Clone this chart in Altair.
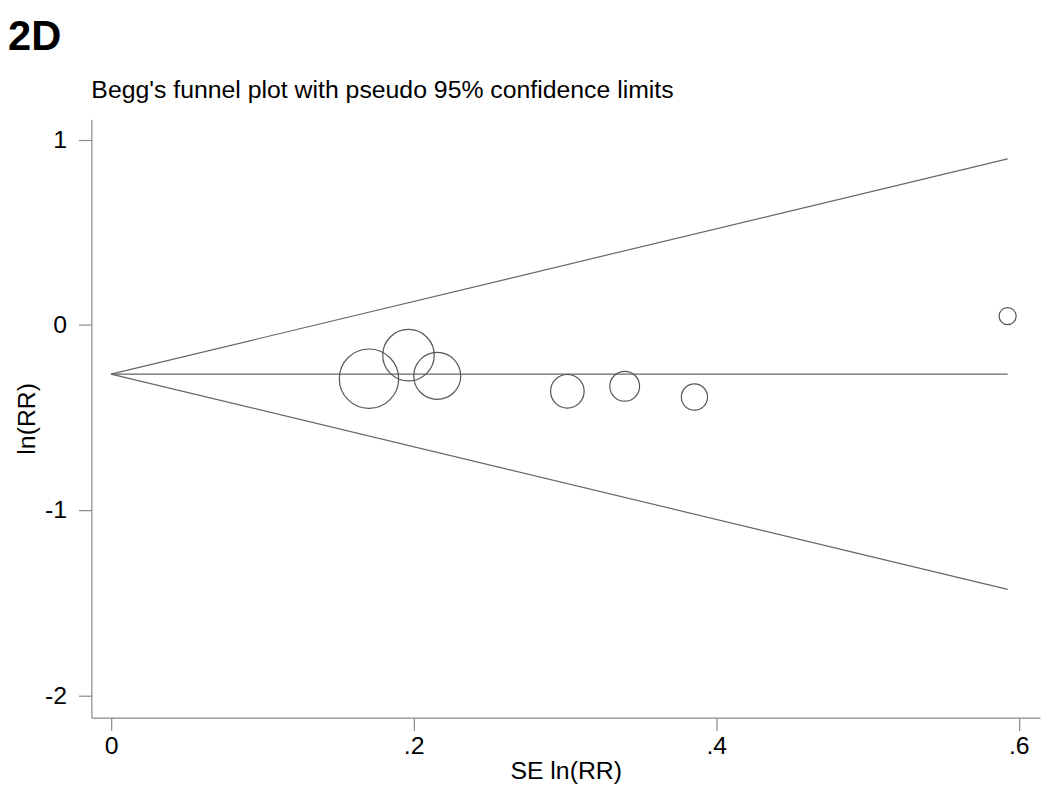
import altair as alt
import pandas as pd

# Study estimates
se = [0.1705, 0.1966, 0.2156, 0.3016, 0.3395, 0.3856, 0.5926]
ln_rr = [-0.291, -0.164, -0.276, -0.359, -0.332, -0.390, 0.047]

# Pooled estimate and pseudo 95% limits (end points)
pooled = -0.266
funnel_se = [0.0, 0.5926]
funnel_upper = [-0.266, 0.896]
funnel_lower = [-0.266, -1.428]

x_ticks = [0, 0.2, 0.4, 0.6]
y_ticks = [-2, -1, 0, 1]

panel_label = "2D"
title_text = "Begg's funnel plot with pseudo 95% confidence limits"

pts = pd.DataFrame({"se": se, "lnrr": ln_rr})
pts["w"] = 1.0 / pts["se"] ** 2

lines = pd.DataFrame({
    "se": funnel_se * 3,
    "val": funnel_upper + funnel_lower + [pooled, pooled],
    "grp": ["upper"] * 2 + ["lower"] * 2 + ["pooled"] * 2,
})

xscale = alt.Scale(domain=[-0.013, 0.614], nice=False, zero=False)
yscale = alt.Scale(domain=[-2.12, 1.11], nice=False, zero=False)

xaxis = alt.Axis(
    values=x_ticks,
    labelExpr="datum.value == 0 ? '0' : replace(format(datum.value, '.1f'), '0.', '.')",
    title="SE ln(RR)", titlePadding=0, labelPadding=3,
)
yaxis = alt.Axis(
    values=y_ticks, labelExpr="toString(datum.value)", title="ln(RR)",
    titlePadding=5, labelPadding=12,
)

line_layer = alt.Chart(lines).mark_line(color="#666666", strokeWidth=1.2).encode(
    x=alt.X("se:Q", scale=xscale, axis=xaxis),
    y=alt.Y("val:Q", scale=yscale, axis=yaxis),
    detail="grp:N",
)

pt_layer = alt.Chart(pts).mark_point(
    shape="circle", filled=False, color="#555555", strokeWidth=1.2, opacity=1
).encode(
    x=alt.X("se:Q", scale=xscale),
    y=alt.Y("lnrr:Q", scale=yscale),
    size=alt.Size("w:Q", scale=alt.Scale(domain=[0, 40], range=[0, 4160]), legend=None),
)

label_layer = alt.Chart(alt.Data(values=[{"t": panel_label}])).mark_text(
    font="Liberation Sans", fontWeight="bold", fontSize=42, align="left",
    baseline="alphabetic", color="black",
).encode(
    text="t:N", x=alt.value(-84), y=alt.value(-70),
)

title_layer = alt.Chart(alt.Data(values=[{"t": title_text}])).mark_text(
    font="Liberation Sans", fontSize=25, align="left",
    baseline="alphabetic", color="black",
).encode(
    text="t:N", x=alt.value(0), y=alt.value(-21),
)

chart = alt.layer(line_layer, pt_layer, label_layer, title_layer).properties(
    width=956,
    height=603,
    autosize=alt.AutoSizeParams(type="none"),
    padding={"left": 84, "top": 109, "right": 2, "bottom": 70},
).configure_view(stroke=None).configure_axis(
    grid=False,
    domainColor="#888888",
    tickColor="#888888",
    tickSize=13,
    domainWidth=1.2,
    tickWidth=1.2,
    labelFont="Liberation Sans",
    titleFont="Liberation Sans",
    labelFontSize=25,
    titleFontSize=25,
    titleFontWeight="normal",
    labelColor="black",
    titleColor="black",
)

chart.save("out.html", embed_options={"renderer": "svg", "actions": False})
